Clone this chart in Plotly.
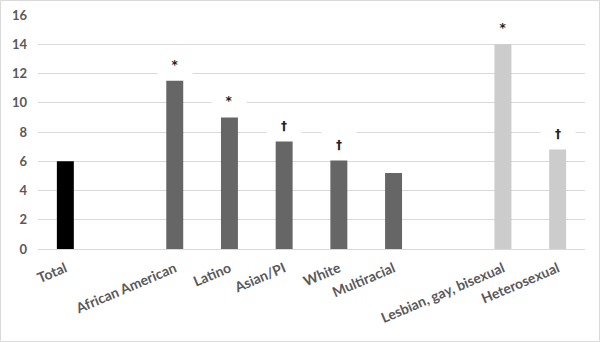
import plotly.graph_objects as go

# Data
total_labels = ["Total"]
total_values = [6.0]
total_marks = [""]

race_labels = ["African American", "Latino", "Asian/PI", "White", "Multiracial"]
race_values = [11.5, 9.0, 7.35, 6.05, 5.2]
race_marks = ["*", "*", "†", "†", ""]

orient_labels = ["Lesbian, gay, bisexual", "Heterosexual"]
orient_values = [14.0, 6.8]
orient_marks = ["*", "†"]

y_ticks = [0, 2, 4, 6, 8, 10, 12, 14, 16]

GAP1, GAP2 = " ", "  "
categories = total_labels + [GAP1] + race_labels + [GAP2] + orient_labels
values = total_values + [None] + race_values + [None] + orient_values
marks = total_marks + [""] + race_marks + [""] + orient_marks
colors = (["#000000"] * len(total_labels) + ["#ffffff"] + ["#666666"] * len(race_labels)
          + ["#ffffff"] + ["#cccccc"] * len(orient_labels))

W, H = 600, 342
ml, mr, mt, mb = 38, 15, 15, 93

fig = go.Figure(go.Bar(
    x=categories, y=values,
    marker=dict(color=colors, line=dict(width=0)),
    hoverinfo="skip",
))

for c, v, m in zip(categories, values, marks):
    if m:
        fig.add_annotation(
            x=c, y=v, xref="x", yref="y", text=m, showarrow=False,
            yanchor="bottom", yshift=1, width=32, height=26,
            bgcolor="#ffffff", valign="middle",
            font=dict(family="DejaVu Sans", size=12, color="#222222", weight="bold"),
        )

pw = W - ml - mr
ph = H - mt - mb
fig.add_shape(type="rect", xref="paper", yref="paper",
              x0=-(ml - 0.5) / pw, x1=1 + (mr - 0.5) / pw,
              y0=-(mb - 0.5) / ph, y1=1 + (mt - 0.5) / ph,
              line=dict(color="#d9d9d9", width=1), layer="below")

fig.update_layout(
    width=W, height=H,
    margin=dict(l=ml, r=mr, t=mt, b=mb, pad=0, autoexpand=False),
    paper_bgcolor="#ffffff", plot_bgcolor="#ffffff",
    bargap=0.69,
    showlegend=False,
    xaxis=dict(
        type="category", categoryorder="array", categoryarray=categories,
        range=[-0.5, len(categories) - 0.5], automargin=False,
        tickangle=-23, showgrid=False, showline=False, ticks="",
        ticklabelstandoff=8,
        tickfont=dict(family="Lato", size=14, color="#595959", weight="bold"),
    ),
    yaxis=dict(
        range=[0, 16], tickvals=y_ticks, showgrid=True, gridcolor="#d9d9d9",
        gridwidth=1, zeroline=True, zerolinecolor="#d9d9d9", zerolinewidth=1,
        showline=False, ticks="", ticklabelstandoff=10, automargin=False,
        tickfont=dict(family="Lato", size=13, color="#595959", weight="bold"),
    ),
)

fig.write_html("out.html", config={"displayModeBar": False, "staticPlot": True},
               post_script="document.body.style.margin='0';document.body.style.overflow='hidden';")
